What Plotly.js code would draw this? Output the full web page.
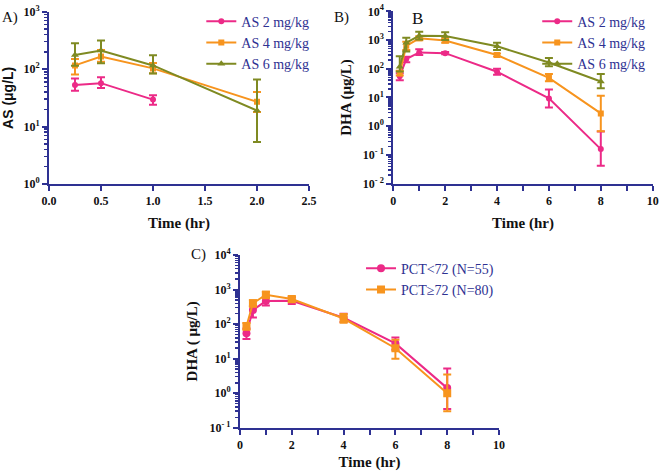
<!DOCTYPE html>
<html>
<head>
<meta charset="utf-8">
<script src="https://cdn.plot.ly/plotly-3.0.1.min.js"></script>
<style>html,body{margin:0;padding:0;background:#fff}#chart{width:660px;height:471px}</style>
</head>
<body>
<div id="chart"></div>
<script>
// ---------- Panel A: AS concentration ----------
const timeA = [0.25, 0.5, 1.0, 2.0];
const timeA2 = [0.25, 0.5, 1.0];
const asLabels = ["AS 2 mg/kg", "AS 4 mg/kg", "AS 6 mg/kg"];
const A_as2_mean = [53, 57, 29.5];
const A_as2_hi   = [69, 72, 35];
const A_as2_lo   = [42, 47, 24];
const A_as4_mean = [116, 166, 103, 27];
const A_as4_hi   = [150, 215, 128, 40];
const A_as4_lo   = [81, 134, 85, 18];
const A_as6_mean = [176, 210, 116, 19];
const A_as6_hi   = [283, 316, 174, 66];
const A_as6_lo   = [115, 126, 84, 5.4];

// ---------- Panel B: DHA concentration by dose ----------
const timeB = [0.25, 0.5, 1, 2, 4, 6, 8];
const B_as2_mean = [55, 218, 370, 350, 79, 9.3, 0.16];
const B_as2_hi   = [70, 260, 480, 380, 100, 19, 0.65];
const B_as2_lo   = [40, 170, 300, 320, 62, 4.5, 0.042];
const B_as4_mean = [70, 630, 1150, 960, 300, 48, 2.8];
const B_as4_hi   = [85, 870, 1350, 1150, 340, 66, 11.5];
const B_as4_lo   = [58, 450, 980, 800, 265, 37, 0.67];
const B_as6_mean = [117, 810, 1410, 1380, 605, 166, 36];
const B_as6_hi   = [275, 1200, 1960, 1870, 810, 235, 66];
const B_as6_lo   = [80, 400, 1050, 1000, 450, 122, 21];

// ---------- Panel C: DHA concentration by PCT ----------
const timeC = [0.25, 0.5, 1, 2, 4, 6, 8];
const pctLabels = ["PCT<72 (N=55)", "PCT≥72 (N=80)"];
const C_lt_mean = [54, 255, 464, 470, 152, 27.5, 1.4];
const C_lt_hi   = [75, 340, 600, 600, 200, 41, 5.2];
const C_lt_lo   = [37, 155, 345, 380, 115, 18, 0.35];
const C_ge_mean = [87, 400, 710, 530, 145, 20, 1.0];
const C_ge_hi   = [107, 490, 870, 630, 195, 35, 3.5];
const C_ge_lo   = [68, 316, 560, 430, 110, 10, 0.3];

// ---------- styling ----------
const PINK = "#ec2a87", ORANGE = "#f7941e", OLIVE = "#7f8a22";
const NAVY = "#2e3192";
const SERIF = "Liberation Serif";
const SANS = "Liberation Sans";

function diff(a, b, sign) { return a.map((v, i) => sign * (v - b[i])); }

function trace(x, mean, hi, lo, name, color, symbol, xa, ya, leg, size) {
  return {
    x: x, y: mean, name: name, type: "scatter", mode: "lines+markers",
    xaxis: xa, yaxis: ya, legend: leg,
    line: {color: color, width: 2},
    marker: {color: color, symbol: symbol, size: size || 7},
    error_y: {type: "data", symmetric: false,
      array: diff(hi, mean, 1), arrayminus: diff(mean, lo, 1),
      color: color, thickness: 2, width: 4}
  };
}

const data = [
  trace(timeA2, A_as2_mean, A_as2_hi, A_as2_lo, asLabels[0], PINK, "circle", "x", "y", "legend", 6),
  trace(timeA, A_as4_mean, A_as4_hi, A_as4_lo, asLabels[1], ORANGE, "square", "x", "y", "legend", 6),
  trace(timeA, A_as6_mean, A_as6_hi, A_as6_lo, asLabels[2], OLIVE, "triangle-up", "x", "y", "legend", 7),
  trace(timeB, B_as2_mean, B_as2_hi, B_as2_lo, asLabels[0], PINK, "circle", "x2", "y2", "legend2", 6),
  trace(timeB, B_as4_mean, B_as4_hi, B_as4_lo, asLabels[1], ORANGE, "square", "x2", "y2", "legend2", 6),
  trace(timeB, B_as6_mean, B_as6_hi, B_as6_lo, asLabels[2], OLIVE, "triangle-up", "x2", "y2", "legend2", 7),
  trace(timeC, C_lt_mean, C_lt_hi, C_lt_lo, pctLabels[0], PINK, "circle", "x3", "y3", "legend3", 8),
  trace(timeC, C_ge_mean, C_ge_hi, C_ge_lo, pctLabels[1], ORANGE, "square", "x3", "y3", "legend3", 8)
];

function decades(lo, hi) {
  const v = [], t = [];
  for (let e = lo; e <= hi; e++) { v.push(Math.pow(10, e)); t.push("10<sup>" + (e < 0 ? "- " + (-e) : e) + "</sup>"); }
  return {v: v, t: t};
}
function minors(lo, hi) {
  const m = [];
  for (let e = lo; e < hi; e++) for (let k = 2; k <= 9; k++) m.push(k * Math.pow(10, e));
  return m;
}
const tickFont = {family: SERIF, size: 12, color: "#111", weight: "bold"};
function yax(lo, hi, domain, title, tfont, standoff) {
  const d = decades(lo, hi);
  return {
    type: "log", range: [lo, hi], domain: domain,
    showline: true, linecolor: NAVY, linewidth: 2, showgrid: false, zeroline: false,
    ticks: "outside", ticklen: 5, tickwidth: 2, tickcolor: NAVY,
    tickmode: "array", tickvals: d.v, ticktext: d.t, tickfont: tickFont,
    minor: {ticks: "outside", ticklen: 3, tickwidth: 1.5, tickcolor: NAVY, tickmode: "array", tickvals: minors(lo, hi), showgrid: false},
    title: {text: title, font: tfont, standoff: standoff}
  };
}
function xax(range, dtick, minorD, domain, fmt) {
  return {
    range: range, domain: domain,
    showline: true, linecolor: NAVY, linewidth: 2, showgrid: false, zeroline: false,
    ticks: "outside", ticklen: 5, tickwidth: 2, tickcolor: NAVY,
    dtick: dtick, tick0: 0, tickformat: fmt, tickfont: tickFont,
    minor: minorD ? {ticks: "outside", ticklen: 5, tickwidth: 2, tickcolor: NAVY, dtick: minorD, showgrid: false} : undefined,
    title: {text: "Time (hr)", font: {family: SERIF, size: 15, color: "#111", weight: "bold"}, standoff: 10}
  };
}

const yA = yax(0, 3, [0.6093, 0.9752], "AS (μg/L)", {family: SANS, size: 14, color: "#111", weight: "bold"}, 10);
yA.anchor = "x";
const yB = yax(-2, 4, [0.6100, 0.9760], "DHA (μg/L)", {family: SERIF, size: 15, color: "#111", weight: "bold"}, 8);
yB.anchor = "x2";
const yC = yax(-1, 4, [0.0919, 0.4586], "DHA ( μg/L)", {family: SERIF, size: 15, color: "#111", weight: "bold"}, 8);
yC.anchor = "x3";

const xA = xax([0, 2.5], 0.5, null, [0.0742, 0.4682], ".1f"); xA.anchor = "y";
const xB = xax([0, 10], 2, 1, [0.5959, 0.9889], "d"); xB.anchor = "y2";
const xC = xax([0, 10], 2, 1, [0.3636, 0.7561], "d"); xC.anchor = "y3";

const legFont = {family: SERIF, size: 14, color: NAVY};
const layout = {
  width: 660, height: 471,
  margin: {l: 0, r: 0, t: 0, b: 0},
  paper_bgcolor: "#fff", plot_bgcolor: "#fff",
  showlegend: true,
  xaxis: xA, yaxis: yA, xaxis2: xB, yaxis2: yB, xaxis3: xC, yaxis3: yC,
  legend: {x: 0.305, y: 0.988, xanchor: "left", yanchor: "top", font: legFont, bgcolor: "rgba(0,0,0,0)", tracegroupgap: 0, itemwidth: 30},
  legend2: {x: 0.814, y: 0.988, xanchor: "left", yanchor: "top", font: legFont, bgcolor: "rgba(0,0,0,0)", tracegroupgap: 0, itemwidth: 30},
  legend3: {x: 0.547, y: 0.4635, xanchor: "left", yanchor: "top", font: legFont, bgcolor: "rgba(0,0,0,0)", tracegroupgap: 0, itemwidth: 30},
  annotations: [
    {text: "A)", x: 0, y: 0.985, xref: "paper", yref: "paper", xanchor: "left", yanchor: "top", showarrow: false, font: {family: SERIF, size: 15, color: "#111"}},
    {text: "B)", x: 0.503, y: 0.985, xref: "paper", yref: "paper", xanchor: "left", yanchor: "top", showarrow: false, font: {family: SERIF, size: 15, color: "#111"}},
    {text: "B", x: 0.621, y: 0.985, xref: "paper", yref: "paper", xanchor: "left", yanchor: "top", showarrow: false, font: {family: SERIF, size: 17, color: "#111"}},
    {text: "C)", x: 0.287, y: 0.482, xref: "paper", yref: "paper", xanchor: "left", yanchor: "top", showarrow: false, font: {family: SERIF, size: 15, color: "#111"}}
  ]
};

Plotly.newPlot("chart", data, layout, {displayModeBar: false, staticPlot: true});
</script>
</body>
</html>
